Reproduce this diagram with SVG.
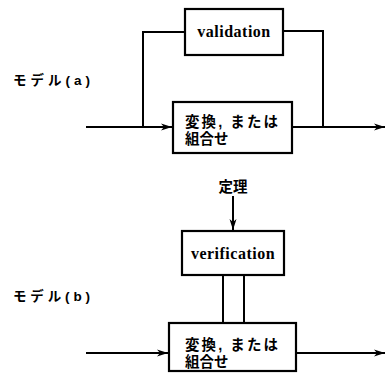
<svg xmlns="http://www.w3.org/2000/svg" width="386" height="380" viewBox="0 0 386 380">
<defs>
<marker id="arr" markerWidth="12" markerHeight="8" refX="11" refY="4" orient="auto" markerUnits="userSpaceOnUse">
<path d="M0,0.5 L11,4 L0,7.5 L3,4 Z" fill="#000"/>
</marker>
</defs>
<style>
.box{fill:#fff;stroke:#000;stroke-width:2.2}
.ln{fill:none;stroke:#000;stroke-width:2}
.en{font-family:"Liberation Serif","DejaVu Serif",serif;font-weight:bold;font-size:16px;letter-spacing:0.5px}
.jp{font-family:"Liberation Sans","Noto Sans CJK JP","Noto Sans CJK SC",sans-serif;font-weight:bold;font-size:14.5px}
.lb{font-family:"Liberation Sans","Noto Sans CJK JP","Noto Sans CJK SC",sans-serif;font-weight:bold;font-size:13.5px}
</style>
<rect width="386" height="380" fill="#fff"/>
<g id="connectors">
<path class="ln" d="M185,32 H143 V127"/>
<path class="ln" d="M283,31 H323 V127"/>
<path class="ln" d="M86,127 H172" marker-end="url(#arr)"/>
<path class="ln" d="M292,127 H385" marker-end="url(#arr)"/>
<path class="ln" d="M233,196 V230" marker-end="url(#arr)"/>
<path class="ln" d="M223,275 V323 M244,275 V323"/>
<path class="ln" d="M86,353 H168" marker-end="url(#arr)"/>
<path class="ln" d="M296,353 H385" marker-end="url(#arr)"/>
</g>
<g id="label-a"><text class="lb" x="13" y="85" textLength="77" lengthAdjust="spacing">モデル(a)</text></g>
<g id="label-b"><text class="lb" x="13" y="301" textLength="77" lengthAdjust="spacing">モデル(b)</text></g>
<g id="validation">
<rect class="box" x="185" y="9" width="98" height="46"/>
<text class="en" x="234" y="37" text-anchor="middle">validation</text>
</g>
<g id="transform-a">
<rect class="box" x="173" y="102" width="119" height="51"/>
<text class="jp" x="185" y="127" textLength="93" lengthAdjust="spacing">変換, または</text>
<text class="jp" x="185" y="144">組合せ</text>
</g>
<g id="theorem"><text class="jp" x="233" y="192" text-anchor="middle" font-size="16">定理</text></g>
<g id="verification">
<rect class="box" x="182" y="231" width="102" height="44"/>
<text class="en" x="233" y="259" text-anchor="middle">verification</text>
</g>
<g id="transform-b">
<rect class="box" x="169" y="323" width="127" height="48"/>
<text class="jp" x="185" y="350" textLength="93" lengthAdjust="spacing">変換, または</text>
<text class="jp" x="185" y="367">組合せ</text>
</g>
</svg>
